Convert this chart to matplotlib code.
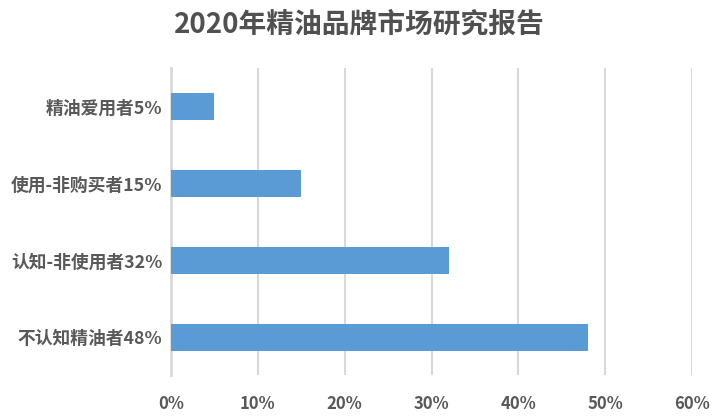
import matplotlib
matplotlib.use('Agg')
import matplotlib.pyplot as plt
from matplotlib.ticker import PercentFormatter

plt.rcParams['font.family'] = ['Noto Sans CJK SC', 'DejaVu Sans']

# 数据（自下而上）
categories = ['不认知精油者48%', '认知-非使用者32%', '使用-非购买者15%', '精油爱用者5%']
values = [48, 32, 15, 5]
x_ticks = [0, 10, 20, 30, 40, 50, 60]

fig = plt.figure(figsize=(7.18, 4.2), dpi=100)
ax = fig.add_axes([0.238, 0.106, 0.726, 0.731])

pos = list(range(len(categories)))
ax.barh(pos, values, height=0.35, color='#5B9BD5', zorder=3)

ax.set_xlim(0, 60)
ax.set_ylim(-0.5, 3.5)
ax.set_xticks(x_ticks)
ax.xaxis.set_major_formatter(PercentFormatter(decimals=0))
ax.set_yticks(pos)
ax.set_yticklabels(categories, fontsize=12.8, fontweight='bold', color='#595959')
for lbl in ax.get_xticklabels():
    lbl.set_fontsize(12)
    lbl.set_fontweight('bold')
    lbl.set_color('#595959')

ax.grid(axis='x', color='#D9D9D9', linewidth=1.5, zorder=0)
ax.tick_params(axis='both', length=0)
ax.tick_params(axis='x', pad=14)
ax.tick_params(axis='y', pad=6)
for s in ['top', 'right', 'bottom']:
    ax.spines[s].set_visible(False)
ax.spines['left'].set_color('#D9D9D9')
ax.spines['left'].set_linewidth(2)

fig.suptitle('2020年精油品牌市场研究报告', fontsize=20, fontweight='bold',
             color='#505050', y=0.975)

fig.savefig('out.png', dpi=100)
